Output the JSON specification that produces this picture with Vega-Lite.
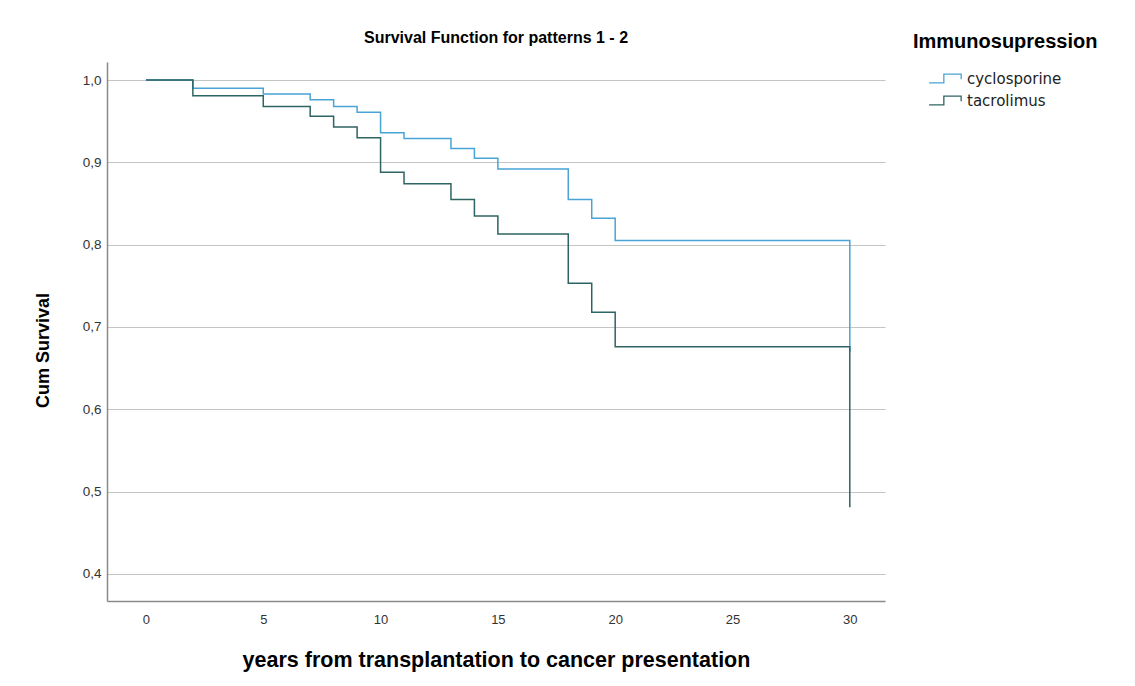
{
  "$schema": "https://vega.github.io/schema/vega-lite/v6.json",
  "width": 778,
  "height": 539,
  "autosize": "none",
  "padding": {"left": 107, "top": 62, "right": 250, "bottom": 85},
  "background": "white",
  "title": {"text": "Survival Function for patterns 1 - 2", "fontSize": 16, "fontWeight": "bold", "font": "Liberation Sans", "color": "#000000", "anchor": "middle", "offset": -14},
  "data": {"values": [
    {"group": "cyclosporine", "years": 0, "survival": 1.0},
    {"group": "cyclosporine", "years": 2, "survival": 0.990},
    {"group": "cyclosporine", "years": 5, "survival": 0.983},
    {"group": "cyclosporine", "years": 7, "survival": 0.976},
    {"group": "cyclosporine", "years": 8, "survival": 0.968},
    {"group": "cyclosporine", "years": 9, "survival": 0.961},
    {"group": "cyclosporine", "years": 10, "survival": 0.936},
    {"group": "cyclosporine", "years": 11, "survival": 0.929},
    {"group": "cyclosporine", "years": 13, "survival": 0.917},
    {"group": "cyclosporine", "years": 14, "survival": 0.905},
    {"group": "cyclosporine", "years": 15, "survival": 0.892},
    {"group": "cyclosporine", "years": 18, "survival": 0.855},
    {"group": "cyclosporine", "years": 19, "survival": 0.832},
    {"group": "cyclosporine", "years": 20, "survival": 0.805},
    {"group": "cyclosporine", "years": 30, "survival": 0.67},
    {"group": "tacrolimus", "years": 0, "survival": 1.0},
    {"group": "tacrolimus", "years": 2, "survival": 0.981},
    {"group": "tacrolimus", "years": 5, "survival": 0.968},
    {"group": "tacrolimus", "years": 7, "survival": 0.956},
    {"group": "tacrolimus", "years": 8, "survival": 0.943},
    {"group": "tacrolimus", "years": 9, "survival": 0.930},
    {"group": "tacrolimus", "years": 10, "survival": 0.888},
    {"group": "tacrolimus", "years": 11, "survival": 0.874},
    {"group": "tacrolimus", "years": 13, "survival": 0.855},
    {"group": "tacrolimus", "years": 14, "survival": 0.835},
    {"group": "tacrolimus", "years": 15, "survival": 0.813},
    {"group": "tacrolimus", "years": 18, "survival": 0.753},
    {"group": "tacrolimus", "years": 19, "survival": 0.718},
    {"group": "tacrolimus", "years": 20, "survival": 0.676},
    {"group": "tacrolimus", "years": 30, "survival": 0.481}
  ]},
  "mark": {"type": "line", "interpolate": "step-after", "strokeWidth": 1.5},
  "encoding": {
    "x": {
      "field": "years", "type": "quantitative",
      "scale": {"domain": [-1.66, 31.5], "nice": false, "zero": false},
      "axis": {
        "values": [0, 5, 10, 15, 20, 25, 30], "grid": false, "ticks": false,
        "domainColor": "#8a8a8a", "domainWidth": 1.5,
        "labelFontSize": 13, "labelColor": "#333333", "labelPadding": 12, "labelFont": "Liberation Sans",
        "title": "years from transplantation to cancer presentation",
        "titleFontSize": 21.5, "titleFontWeight": "bold", "titleColor": "#000000", "titleFont": "Liberation Sans", "titlePadding": 23
      }
    },
    "y": {
      "field": "survival", "type": "quantitative",
      "scale": {"domain": [0.367, 1.022], "nice": false, "zero": false},
      "axis": {
        "values": [0.4, 0.5, 0.6, 0.7, 0.8, 0.9, 1.0], "grid": true, "gridColor": "#c4c4c4", "gridWidth": 1.2,
        "ticks": false, "domainColor": "#8a8a8a", "domainWidth": 1.5,
        "labelExpr": "replace(format(datum.value, '.1f'), '.', ',')",
        "labelFontSize": 13.5, "labelColor": "#333333", "labelPadding": 6, "labelFont": "Liberation Sans",
        "title": "Cum Survival", "titleFontSize": 18, "titleFontWeight": "bold", "titleColor": "#000000", "titleFont": "Liberation Sans",
        "titlePadding": 30, "titleY": 288
      }
    },
    "color": {
      "field": "group", "type": "nominal",
      "scale": {"domain": ["cyclosporine", "tacrolimus"], "range": ["#4aa3d6", "#2e6463"]},
      "legend": {
        "title": "Immunosupression", "orient": "none", "legendX": 806, "legendY": -30,
        "titleFontSize": 20, "titleFontWeight": "bold", "titleColor": "#000000", "titleFont": "Liberation Sans", "titlePadding": 17, "titleLimit": 400,
        "labelFontSize": 15, "labelColor": "#222222", "labelFont": "DejaVu Sans", "labelOffset": 5, "labelLimit": 300,
        "symbolType": "M-2.7,0.5H-1.0V-0.5H1.0V0.1", "symbolSize": 300, "symbolStrokeWidth": 1.3,
        "symbolOffset": 30, "symbolFillColor": "transparent", "rowPadding": 4, "padding": 0, "offset": 0
      }
    }
  },
  "config": {"view": {"stroke": null}, "font": "Liberation Sans"}
}
